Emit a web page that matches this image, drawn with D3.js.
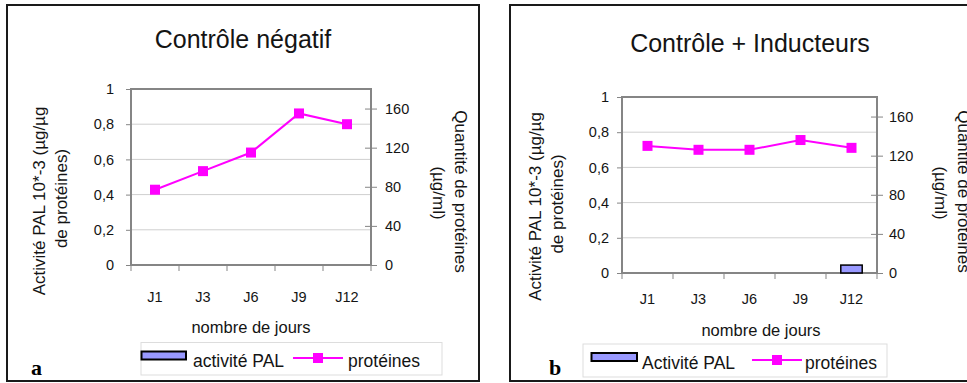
<!DOCTYPE html>
<html><head><meta charset="utf-8">
<script src="https://cdn.jsdelivr.net/npm/d3@7"></script>
<style>
html,body{margin:0;padding:0;background:#fff;}
svg{display:block;font-family:"Liberation Sans",Arial,sans-serif;}
</style></head>
<body>
<svg id="chart" width="967" height="383"></svg>
<script>
// ---- data ----
const categories = ["J1","J3","J6","J9","J12"];
const palNegatif = [0,0,0,0,0];
const proteinesNegatif = [77,96,115,155,144];
const palInducteurs = [0,0,0,0,0.045];
const proteinesInducteurs = [130,126,126,136,128];
const leftTicks = [0,0.2,0.4,0.6,0.8,1];
const rightTicks = [0,40,80,120,160];
const panelTitles = ["Contrôle négatif","Contrôle + Inducteurs"];
const legendPalLabels = ["activité PAL","Activité PAL"];
const legendProtLabel = "protéines";
const panelLetters = ["a","b"];
const xTitle = "nombre de jours";
const yLeftTitle = ["Activité PAL 10*-3 (µg/µg","de protéines)"];
const yRightTitle = ["Quantité de protéines","(µg/ml)"];

const fr = d3.formatLocale({decimal:",",thousands:" ",grouping:[3],currency:["","€"]});
const fmtLeft = fr.format("~g");

const svg = d3.select("#chart");
const TXT = "#141414";

const layouts = [
  {frame:[7,5,472,376], plot:{x0:131,x1:371,y0:89,y1:265}, leftPad:12, rightPad:8,
   title:[243,48], xLabY:302, xTitle:[251,333],
   yL:[[45,201],[67,198.5]], yR:[[455,191.5],[433,193]],
   legend:{box:[141,342.5,301,32.5], sw:[141.5,351.5,44.5,8], t1:[193,367], line:[293,343,358], t2:[348,367]},
   letter:[31,375]},
  {frame:[510,5,480,376], plot:{x0:622,x1:877,y0:97,y1:273}, leftPad:8, rightPad:6,
   title:[750,52], xLabY:304, xTitle:[761,336],
   yL:[[541,206.5],[563,204]], yR:[[958,191.5],[935,193]],
   legend:{box:[583,344,304,33], sw:[591.5,353,45.5,8], t1:[642,369], line:[752,802,360], t2:[805,369]},
   letter:[549,375]}
];
const palSeries = [palNegatif, palInducteurs];
const protSeries = [proteinesNegatif, proteinesInducteurs];

layouts.forEach((L, i) => {
  const g = svg.append("g");
  const p = L.plot;
  g.append("rect").attr("x",L.frame[0]).attr("y",L.frame[1]).attr("width",L.frame[2]).attr("height",L.frame[3])
    .attr("fill","#fff").attr("stroke","#1a1a1a").attr("stroke-width",2);

  const x = d3.scaleBand().domain(categories).range([p.x0,p.x1]).padding(0);
  const yL = d3.scaleLinear().domain([0,1]).range([p.y1,p.y0]);
  const yR = d3.scaleLinear().domain([0,180]).range([p.y1,p.y0]);

  g.append("g").selectAll("line").data(leftTicks.filter(t=>t>0 && t<1)).join("line")
    .attr("x1",p.x0).attr("x2",p.x1).attr("y1",d=>yL(d)).attr("y2",d=>yL(d))
    .attr("stroke","#cfcfcf").attr("stroke-width",1);

  g.append("rect").attr("x",p.x0).attr("y",p.y0).attr("width",p.x1-p.x0).attr("height",p.y1-p.y0)
    .attr("fill","none").attr("stroke","#858585").attr("stroke-width",2);

  const ax = g.append("g").attr("transform",`translate(${p.x0},0)`)
    .call(d3.axisLeft(yL).tickValues(leftTicks).tickFormat(fmtLeft).tickSize(5).tickPadding(L.leftPad));
  ax.select(".domain").remove();
  ax.selectAll("line").attr("stroke","#858585").attr("stroke-width",1);
  ax.selectAll("text").attr("font-size",14.5).attr("fill",TXT).attr("font-family","Liberation Sans, Arial, sans-serif");

  const ar = g.append("g").attr("transform",`translate(${p.x1},0)`)
    .call(d3.axisRight(yR).tickValues(rightTicks).tickSize(6).tickPadding(L.rightPad));
  ar.select(".domain").remove();
  ar.selectAll("line").attr("x1",-6).attr("stroke","#858585").attr("stroke-width",1);
  ar.selectAll("text").attr("font-size",14.5).attr("fill",TXT).attr("font-family","Liberation Sans, Arial, sans-serif");

  const edges = categories.map(c=>x(c)).concat([p.x1]);
  g.append("g").selectAll("line").data(edges).join("line")
    .attr("x1",d=>d).attr("x2",d=>d).attr("y1",p.y1).attr("y2",p.y1+6)
    .attr("stroke","#858585").attr("stroke-width",1);
  g.append("g").selectAll("text").data(categories).join("text")
    .attr("x",d=>x(d)+x.bandwidth()/2).attr("y",L.xLabY).attr("text-anchor","middle")
    .attr("font-size",14.5).attr("fill",TXT).text(d=>d);

  const bw = x.bandwidth()*0.42;
  g.append("g").selectAll("rect").data(categories.map((c,k)=>({c,v:palSeries[i][k]})).filter(d=>d.v>0)).join("rect")
    .attr("x",d=>x(d.c)+x.bandwidth()/2-bw/2).attr("width",bw)
    .attr("y",d=>yL(d.v)).attr("height",d=>yL(0)-yL(d.v))
    .attr("fill","#9999FF").attr("stroke","#000").attr("stroke-width",1.5);

  const pts = categories.map((c,k)=>({c,v:protSeries[i][k]}));
  g.append("path").datum(pts)
    .attr("d",d3.line().x(d=>x(d.c)+x.bandwidth()/2).y(d=>yR(d.v)))
    .attr("fill","none").attr("stroke","#FF00FF").attr("stroke-width",2);
  g.append("g").selectAll("rect").data(pts).join("rect")
    .attr("x",d=>x(d.c)+x.bandwidth()/2-5).attr("y",d=>yR(d.v)-5)
    .attr("width",10).attr("height",10).attr("fill","#FF00FF");

  g.append("text").attr("x",L.title[0]).attr("y",L.title[1]).attr("text-anchor","middle")
    .attr("font-size",25).attr("fill",TXT).text(panelTitles[i]);
  g.append("text").attr("x",L.xTitle[0]).attr("y",L.xTitle[1]).attr("text-anchor","middle")
    .attr("font-size",16.5).attr("fill",TXT).text(xTitle);
  yLeftTitle.forEach((t,k)=>{
    g.append("text").attr("transform",`translate(${L.yL[k][0]},${L.yL[k][1]}) rotate(-90)`)
      .attr("text-anchor","middle").attr("font-size",17).attr("fill",TXT).text(t);
  });
  yRightTitle.forEach((t,k)=>{
    g.append("text").attr("transform",`translate(${L.yR[k][0]},${L.yR[k][1]}) rotate(90)`)
      .attr("text-anchor","middle").attr("font-size",17).attr("fill",TXT).text(t);
  });

  const lg = L.legend;
  g.append("rect").attr("x",lg.box[0]).attr("y",lg.box[1]).attr("width",lg.box[2]).attr("height",lg.box[3])
    .attr("fill","#fff").attr("stroke","#dddddd").attr("stroke-width",1);
  g.append("rect").attr("x",lg.sw[0]).attr("y",lg.sw[1]).attr("width",lg.sw[2]).attr("height",lg.sw[3])
    .attr("fill","#9999FF").attr("stroke","#000").attr("stroke-width",2);
  g.append("text").attr("x",lg.t1[0]).attr("y",lg.t1[1]).attr("font-size",17.5).attr("fill",TXT).text(legendPalLabels[i]);
  g.append("line").attr("x1",lg.line[0]).attr("x2",lg.line[1]).attr("y1",lg.line[2]).attr("y2",lg.line[2])
    .attr("stroke","#FF00FF").attr("stroke-width",2);
  g.append("rect").attr("x",(lg.line[0]+lg.line[1])/2-5).attr("y",lg.line[2]-5).attr("width",10).attr("height",10).attr("fill","#FF00FF");
  g.append("text").attr("x",lg.t2[0]).attr("y",lg.t2[1]).attr("font-size",17.5).attr("fill",TXT).text(legendProtLabel);

  g.append("text").attr("x",L.letter[0]).attr("y",L.letter[1]).attr("font-family","Liberation Serif, Times New Roman, serif")
    .attr("font-weight","bold").attr("font-size",22).attr("fill","#000").text(panelLetters[i]);
});
</script>
</body></html>
